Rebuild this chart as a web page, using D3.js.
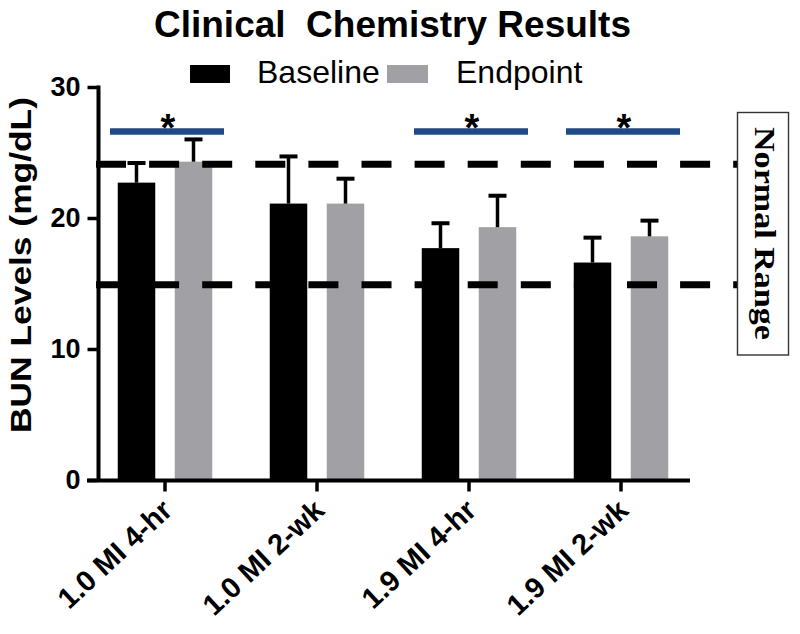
<!DOCTYPE html>
<html>
<head>
<meta charset="utf-8">
<script src="https://cdn.jsdelivr.net/npm/d3@7"></script>
<style>
  html, body { margin: 0; padding: 0; background: #fff; }
  svg { display: block; }
</style>
</head>
<body>
<script>
// ---- data ----
const categories = ["1.0 MI 4-hr", "1.0 MI 2-wk", "1.9 MI 4-hr", "1.9 MI 2-wk"];
const seriesNames = ["Baseline", "Endpoint"];
const baselineMean = [22.7, 21.1, 17.7, 16.6];
const baselineErr  = [1.5, 3.6, 1.9, 1.9];
const endpointMean = [24.3, 21.1, 19.3, 18.6];
const endpointErr  = [1.7, 1.9, 2.4, 1.2];
const significant  = [true, false, true, true];
const normalRange  = [14.9, 24.1];
const yTicks       = [0, 10, 20, 30];

const W = 800, H = 634;
const svg = d3.select("body").append("svg").attr("width", W).attr("height", H);

const y = d3.scaleLinear().domain([0, 30]).range([480, 87]);
const x = d3.scaleBand().domain(categories).range([89, 697]);
const xSub = d3.scaleBand().domain(seriesNames).range([-57, 57])
  .paddingInner(0.342).paddingOuter(0.171);
const color = d3.scaleOrdinal().domain(seriesNames).range(["#000000", "#a1a1a5"]);

const rows = categories.map((c, i) => ({
  cat: c,
  vals: [
    { s: "Baseline", v: baselineMean[i], e: baselineErr[i] },
    { s: "Endpoint", v: endpointMean[i], e: endpointErr[i] }
  ],
  sig: significant[i]
}));

// title
svg.append("text")
  .attr("x", 392.5).attr("y", 37)
  .attr("text-anchor", "middle")
  .attr("font-family", "Liberation Sans, Arial, sans-serif")
  .attr("font-weight", "bold").attr("font-size", 37)
  .text("Clinical\u00a0\u00a0Chemistry Results");

// legend
const legendItems = [
  { s: "Baseline", rx: 190, rw: 40, tx: 257 },
  { s: "Endpoint", rx: 387, rw: 41, tx: 456 }
];
legendItems.forEach(d => {
  svg.append("rect").attr("x", d.rx).attr("y", 65).attr("width", d.rw).attr("height", 18)
    .attr("fill", color(d.s));
  svg.append("text").attr("x", d.tx).attr("y", 83)
    .attr("font-family", "Liberation Sans, Arial, sans-serif")
    .attr("font-size", 32).attr("fill", "#000").text(d.s);
});

// bars
const groups = svg.append("g").selectAll("g").data(rows).join("g")
  .attr("transform", d => `translate(${x(d.cat) + x.bandwidth() / 2},0)`);

groups.selectAll("rect").data(d => d.vals).join("rect")
  .attr("x", d => xSub(d.s))
  .attr("width", xSub.bandwidth())
  .attr("y", d => y(d.v))
  .attr("height", d => y(0) - y(d.v))
  .attr("fill", d => color(d.s));

// error bars (upper only)
const eb = groups.selectAll("g.err").data(d => d.vals).join("g").attr("class", "err");
eb.append("line")
  .attr("x1", d => xSub(d.s) + xSub.bandwidth() / 2)
  .attr("x2", d => xSub(d.s) + xSub.bandwidth() / 2)
  .attr("y1", d => y(d.v))
  .attr("y2", d => y(d.v + d.e))
  .attr("stroke", "#000").attr("stroke-width", 3.5);
eb.append("line")
  .attr("x1", d => xSub(d.s) + xSub.bandwidth() / 2 - 9)
  .attr("x2", d => xSub(d.s) + xSub.bandwidth() / 2 + 9)
  .attr("y1", d => y(d.v + d.e))
  .attr("y2", d => y(d.v + d.e))
  .attr("stroke", "#000").attr("stroke-width", 4);

// significance bars
const sigY = 26.6;
const sg = groups.filter(d => d.sig);
sg.append("line")
  .attr("x1", -55).attr("x2", 59)
  .attr("y1", y(sigY)).attr("y2", y(sigY))
  .attr("stroke", "#1f4a87").attr("stroke-width", 6.5);
sg.append("text")
  .attr("x", 3).attr("y", y(sigY) + 9)
  .attr("text-anchor", "middle")
  .attr("font-family", "Liberation Sans, Arial, sans-serif")
  .attr("font-weight", "bold").attr("font-size", 38)
  .text("*");

// normal range dashed lines
svg.append("g").selectAll("line").data(normalRange).join("line")
  .attr("x1", 96).attr("x2", 737)
  .attr("y1", d => y(d)).attr("y2", d => y(d))
  .attr("stroke", "#000").attr("stroke-width", 7)
  .attr("stroke-dasharray", "30,23.1");

// normal range box
svg.append("rect").attr("x", 737.5).attr("y", 112.5).attr("width", 51).attr("height", 242.5)
  .attr("fill", "#fff").attr("stroke", "#333").attr("stroke-width", 1.4);
svg.append("text")
  .attr("transform", "translate(755,233.5) rotate(90)")
  .attr("text-anchor", "middle")
  .attr("font-family", "Liberation Serif, Times New Roman, serif")
  .attr("font-weight", "bold").attr("font-size", 30)
  .attr("textLength", 213).attr("lengthAdjust", "spacingAndGlyphs")
  .text("Normal Range");

// y axis
const yAxis = svg.append("g").attr("transform", "translate(98.5,0)")
  .call(d3.axisLeft(y).tickValues(yTicks).tickSize(11).tickPadding(7).tickSizeOuter(0));
yAxis.select(".domain").attr("stroke", "#000").attr("stroke-width", 4)
  .attr("d", `M0,${y(30) - 1.5}V${y(0) + 2}`);
yAxis.selectAll(".tick line").attr("stroke", "#000").attr("stroke-width", 3.5);
yAxis.selectAll(".tick text")
  .attr("font-family", "Liberation Sans, Arial, sans-serif")
  .attr("font-weight", "bold").attr("font-size", 27).attr("fill", "#000");

// x axis
const xAxis = svg.append("g").attr("transform", "translate(0,480.5)")
  .call(d3.axisBottom(x).tickSize(11).tickSizeOuter(0).tickFormat(() => ""));
xAxis.select(".domain").attr("stroke", "#000").attr("stroke-width", 4)
  .attr("d", "M87,0H690");
xAxis.selectAll(".tick line").attr("stroke", "#000").attr("stroke-width", 3.5);
xAxis.selectAll(".tick").append("text")
  .attr("transform", "translate(9,32) rotate(-43)")
  .attr("text-anchor", "end")
  .attr("font-family", "Liberation Sans, Arial, sans-serif")
  .attr("font-weight", "bold").attr("font-size", 29).attr("fill", "#000")
  .text(d => d);

// y label
svg.append("text")
  .attr("transform", "translate(31,265) rotate(-90)")
  .attr("text-anchor", "middle")
  .attr("font-family", "Liberation Sans, Arial, sans-serif")
  .attr("font-weight", "bold").attr("font-size", 30)
  .attr("textLength", 336).attr("lengthAdjust", "spacingAndGlyphs")
  .text("BUN Levels (mg/dL)");
</script>
</body>
</html>
